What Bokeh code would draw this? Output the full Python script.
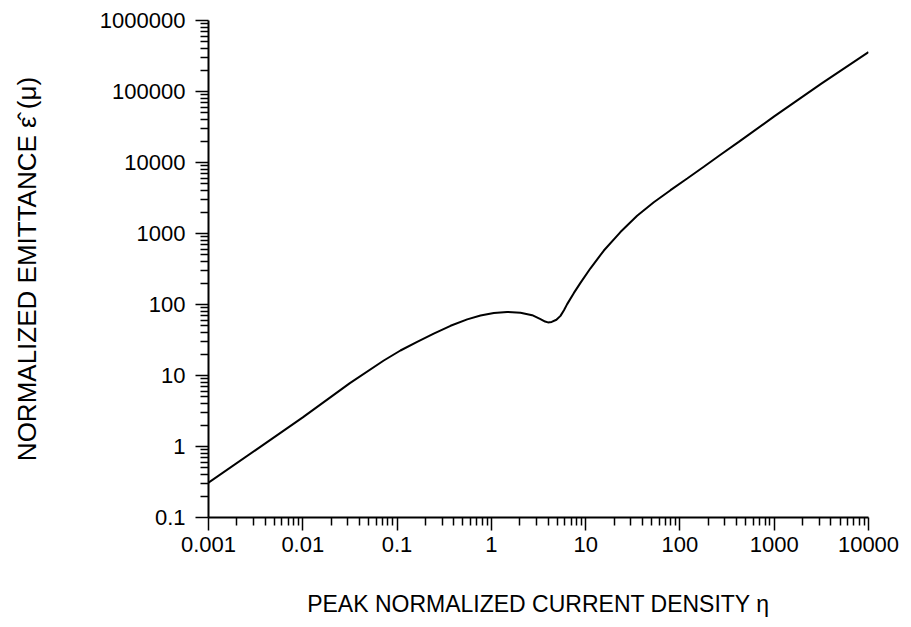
from bokeh.plotting import figure
from bokeh.models import Range1d, FixedTicker
from bokeh.embed import file_html
from bokeh.resources import INLINE

# Peak normalized current density (eta) and normalized emittance (microns)
eta = [0.001, 0.00316, 0.01, 0.0316, 0.0723, 0.1086, 0.1633, 0.2449,
       0.369, 0.5546, 0.7674, 1.062, 1.472, 2.037, 2.71, 3.319, 3.715,
       3.981, 4.365, 4.898, 5.408, 5.888, 6.368, 7.482, 8.81, 11.25,
       15.6, 23.39, 35.16, 52.84, 79.43, 119.4, 179.1, 269.2, 420.7,
       1000, 3162, 10000]
emittance = [0.309, 0.891, 2.57, 7.816, 16.26, 22.49, 29.79, 38.9,
             50.12, 61.66, 69.98, 75.86, 78.52, 76.74, 70.79, 62.37, 57.54,
             55.98, 56.89, 60.95, 69.18, 83.18, 101.2, 144.5, 201.8, 323.6,
             575.4, 1047, 1778, 2754, 4074, 5957, 8710, 12880, 19500,
             44670, 128800, 358900]

x_ticks = [0.001, 0.01, 0.1, 1, 10, 100, 1000, 10000]
x_tick_labels = ["0.001", "0.01", "0.1", "1", "10", "100", "1000", "10000"]
y_ticks = [0.1, 1, 10, 100, 1000, 10000, 100000, 1000000]
y_tick_labels = ["0.1", "1", "10", "100", "1000", "10000", "100000", "1000000"]


def minor_ticks(majors):
    out = []
    for m in majors[:-1]:
        out += [m * k for k in range(2, 10)]
    return out


FONT = "Liberation Sans"

p = figure(width=911, height=627, x_axis_type="log", y_axis_type="log",
           x_range=Range1d(0.001, 10000), y_range=Range1d(0.1, 1000000),
           output_backend="svg", toolbar_location=None,
           min_border_left=208, min_border_right=43,
           min_border_top=20, min_border_bottom=110)

p.outline_line_color = None
p.background_fill_color = "white"
p.border_fill_color = "white"
p.xgrid.visible = False
p.ygrid.visible = False

p.line(eta, emittance, line_color="black", line_width=2)

for ax, ticks, labels in ((p.xaxis[0], x_ticks, x_tick_labels),
                          (p.yaxis[0], y_ticks, y_tick_labels)):
    ax.ticker = FixedTicker(ticks=ticks, minor_ticks=minor_ticks(ticks))
    ax.major_label_overrides = {t: l for t, l in zip(ticks, labels)}
    ax.axis_line_color = "black"
    ax.axis_line_width = 2
    ax.major_tick_line_color = "black"
    ax.minor_tick_line_color = "black"
    ax.major_tick_line_width = 1.5
    ax.minor_tick_line_width = 1.5
    ax.major_tick_in = 0
    ax.major_tick_out = 13
    ax.minor_tick_in = 0
    ax.minor_tick_out = 8
    ax.major_label_text_font = FONT
    ax.major_label_text_font_size = "22px"
    ax.major_label_text_color = "black"
    ax.axis_label_text_font = FONT
    ax.axis_label_text_font_style = "normal"
    ax.axis_label_text_color = "black"

p.xaxis.axis_label = "PEAK NORMALIZED CURRENT DENSITY \u03b7"
p.yaxis.axis_label = "NORMALIZED EMITTANCE \u03b5\u0302 (\u03bc)"
p.xaxis.axis_label_text_font_size = "23px"
p.yaxis.axis_label_text_font_size = "26px"
p.xaxis.major_label_standoff = 6
p.yaxis.major_label_standoff = 10
p.xaxis.axis_label_standoff = 36
p.yaxis.axis_label_standoff = 55

open("out.html", "w").write(file_html(p, INLINE))
